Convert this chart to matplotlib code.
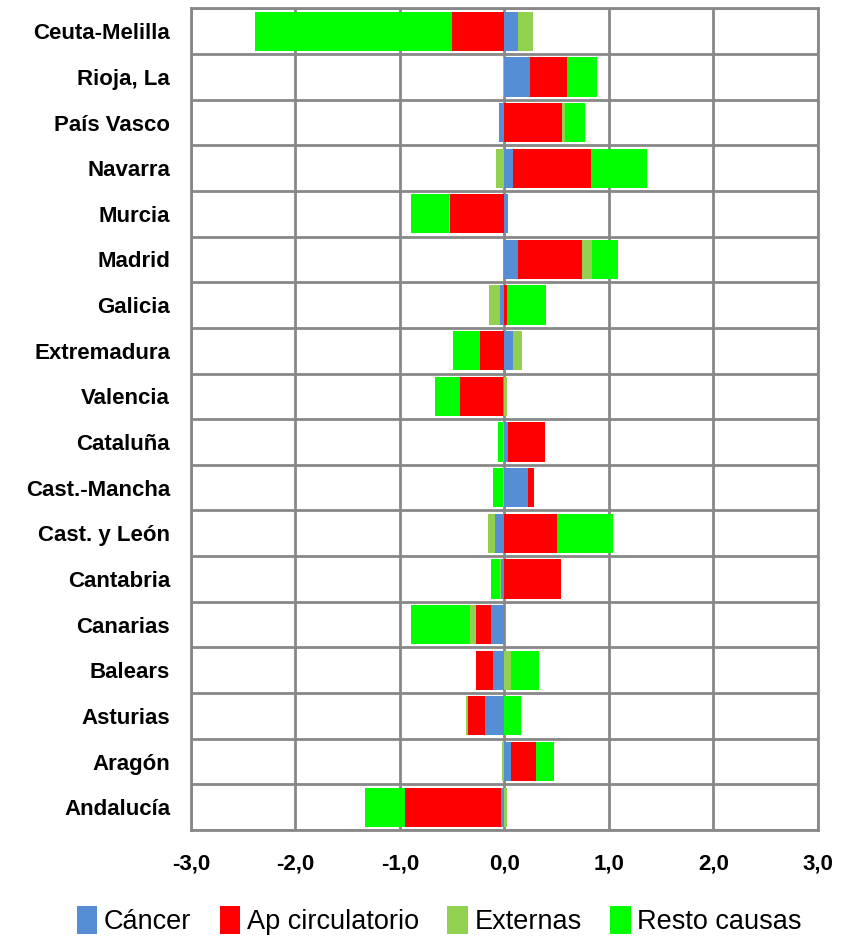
import matplotlib.pyplot as plt
import numpy as np

# regions, bottom to top
regiones = ['Andalucía', 'Aragón', 'Asturias', 'Balears', 'Canarias', 'Cantabria',
            'Cast. y León', 'Cast.-Mancha', 'Cataluña', 'Valencia', 'Extremadura',
            'Galicia', 'Madrid', 'Murcia', 'Navarra', 'País Vasco', 'Rioja, La',
            'Ceuta-Melilla']

cancer = [-0.03, 0.06, -0.19, -0.11, -0.13, -0.03, -0.09, 0.23, 0.03, -0.01, 0.08,
          -0.04, 0.13, 0.03, 0.08, -0.05, 0.24, 0.13]
ap_circ = [-0.92, 0.24, -0.16, -0.16, -0.14, 0.54, 0.50, 0.05, 0.36, -0.42, -0.23,
           0.02, 0.61, -0.52, 0.75, 0.55, 0.36, -0.50]
externas = [0.02, -0.02, -0.02, 0.06, -0.06, -0.01, -0.07, -0.01, -0.01, 0.02, 0.09,
            -0.11, 0.10, -0.01, -0.08, 0.03, -0.01, 0.14]
resto = [-0.38, 0.17, 0.16, 0.27, -0.56, -0.09, 0.54, -0.10, -0.05, -0.23, -0.26,
         0.38, 0.25, -0.36, 0.53, 0.19, 0.29, -1.89]

series = [('Cáncer', cancer, '#558ed5'),
          ('Ap circulatorio', ap_circ, '#ff0000'),
          ('Externas', externas, '#92d050'),
          ('Resto causas', resto, '#00ff00')]

plt.rcParams['font.family'] = ['Liberation Sans', 'DejaVu Sans']

fig = plt.figure(figsize=(8.45, 9.41), dpi=100)
ax = fig.add_axes([0.226, 0.118, 0.742, 0.873])

ind = np.arange(len(regiones))
pos = np.zeros(len(regiones))
neg = np.zeros(len(regiones))
for name, vals, col in series:
    v = np.array(vals)
    left = np.where(v >= 0, pos, neg)
    ax.barh(ind, v, 0.86, left=left, color=col, label=name, zorder=3)
    pos = pos + np.where(v >= 0, v, 0)
    neg = neg + np.where(v < 0, v, 0)

ax.set_xlim(-3, 3)
ax.set_ylim(-0.5, len(regiones) - 0.5)
ticks = np.arange(-3, 4, 1)
ax.set_xticks(ticks)
ax.set_xticklabels([('%.1f' % t).replace('.', ',') for t in ticks])
ax.set_yticks(ind)
ax.set_yticklabels(regiones)
ax.set_yticks(np.arange(-0.5, len(regiones), 1), minor=True)
ax.grid(True, axis='x', color='#888888', linewidth=2, zorder=0)
ax.grid(True, axis='y', which='minor', color='#888888', linewidth=2, zorder=0)
ax.tick_params(axis='both', which='both', length=0)
ax.tick_params(axis='y', pad=15, labelsize=16)
ax.tick_params(axis='x', pad=17, labelsize=16)
for lab in ax.get_xticklabels() + ax.get_yticklabels():
    lab.set_fontweight('bold')
for s in ax.spines.values():
    s.set_color('#888888')
    s.set_linewidth(2)

fig.legend(loc='lower center', bbox_to_anchor=(0.52, -0.008), ncol=4, frameon=False,
           handlelength=0.75, handleheight=1.2, handletextpad=0.25, columnspacing=1.05,
           borderpad=0.0, prop={'size': 19.5})

fig.savefig('out.png', dpi=100)
